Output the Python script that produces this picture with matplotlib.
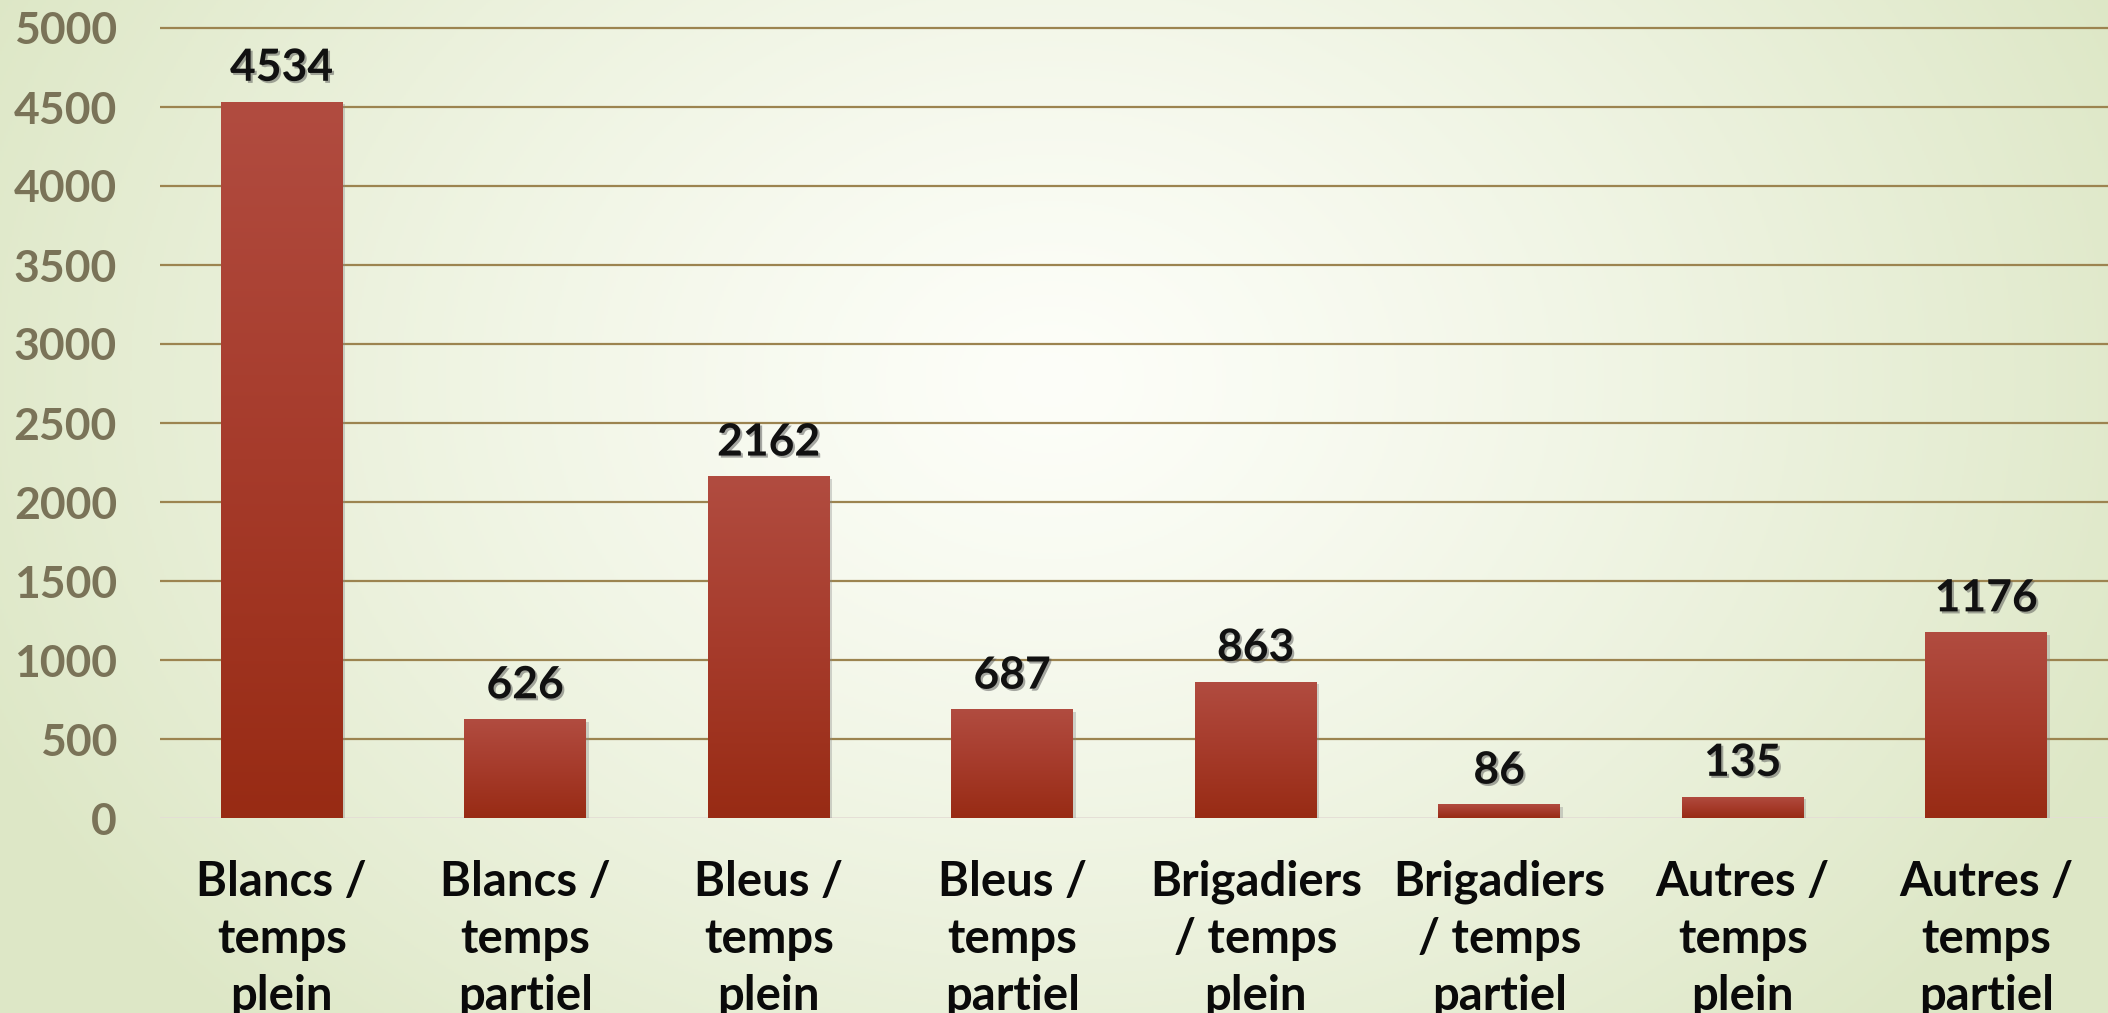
import numpy as np
import matplotlib
matplotlib.use("Agg")
import matplotlib.pyplot as plt
import matplotlib.patheffects as pe
from matplotlib.colors import LinearSegmentedColormap

categories = ["Blancs /\ntemps\nplein", "Blancs /\ntemps\npartiel", "Bleus /\ntemps\nplein",
              "Bleus /\ntemps\npartiel", "Brigadiers\n/ temps\nplein", "Brigadiers\n/ temps\npartiel",
              "Autres /\ntemps\nplein", "Autres /\ntemps\npartiel"]
values = [4534, 626, 2162, 687, 863, 86, 135, 1176]
yticks = [0, 500, 1000, 1500, 2000, 2500, 3000, 3500, 4000, 4500, 5000]

plt.rcParams['font.family'] = ['Lato', 'DejaVu Sans']
plt.rcParams['font.weight'] = 'bold'

W, H, DPI = 2108, 1013, 100
fig = plt.figure(figsize=(W / DPI, H / DPI), dpi=DPI)

# background radial gradient
bg = fig.add_axes([0, 0, 1, 1], zorder=-10)
yy, xx = np.mgrid[0:H:2, 0:W:2]
cx, cy = 1050, 380
d = np.sqrt(((xx - cx) / 1150.0) ** 2 + ((yy - cy) / 900.0) ** 2)
d = np.clip(d, 0, 1)
c0 = np.array([0.992, 0.996, 0.975])
c1 = np.array([0.870, 0.908, 0.780])
t = d[..., None] ** 1.25
img = c0 * (1 - t) + c1 * t
bg.imshow(img, extent=[0, 1, 0, 1], aspect='auto', origin='upper')
bg.axis('off')

# axes placement
px_per_unit = (818 - 28) / 5000.0
top_val = 5040
ax_bottom = 1 - 818 / H
ax_top = 1 - (818 - top_val * px_per_unit) / H
ax = fig.add_axes([160 / W, ax_bottom, 1 - 160 / W, ax_top - ax_bottom])
ax.patch.set_alpha(0)

x = np.arange(len(values))
bars = ax.bar(x, values, width=0.5, color='#a63a2c', zorder=3,
              path_effects=[pe.SimplePatchShadow(offset=(2, -2), shadow_rgbFace='#888888', alpha=0.35),
                            pe.Normal()])

cmap = LinearSegmentedColormap.from_list('bar', ['#982b14', '#a63b2b', '#b14c40'])
grad = np.linspace(0, 1, 256).reshape(-1, 1)
for b in bars:
    x0, y0, w, h = b.get_x(), b.get_y(), b.get_width(), b.get_height()
    im = ax.imshow(grad, extent=[x0, x0 + w, y0, y0 + h], origin='lower', aspect='auto',
                   cmap=cmap, zorder=4)
    im.set_clip_path(b)

for xi, v in zip(x, values):
    ax.annotate(str(v), (xi, v), xytext=(0, 15), textcoords='offset points',
                ha='center', va='baseline', fontsize=32, fontweight='bold', color='#111111',
                zorder=6,
                path_effects=[pe.withSimplePatchShadow(offset=(1.5, -1.5), shadow_rgbFace='#555555', alpha=0.5)])

ax.set_xlim(-0.5, len(values) - 0.5)
ax.set_ylim(0, top_val)
ax.set_yticks(yticks)
ax.set_yticklabels([str(v) for v in yticks])
ax.set_xticks(x)
ax.set_xticklabels(categories, linespacing=1.36)

for s in ax.spines.values():
    s.set_visible(False)
ax.tick_params(axis='y', length=0, pad=31, labelsize=32, labelcolor='#7a7358')
ax.tick_params(axis='x', length=0, pad=30, labelsize=34, labelcolor='#0a0a0a')
for lbl in ax.get_yticklabels() + ax.get_xticklabels():
    lbl.set_fontweight('bold')

for yv in yticks[1:]:
    ax.axhline(yv, color='#9c8450', lw=1.6, zorder=1)
ax.axhline(0, color='#e4ddd5', lw=2, zorder=2)

fig.savefig('out.png', dpi=DPI)
